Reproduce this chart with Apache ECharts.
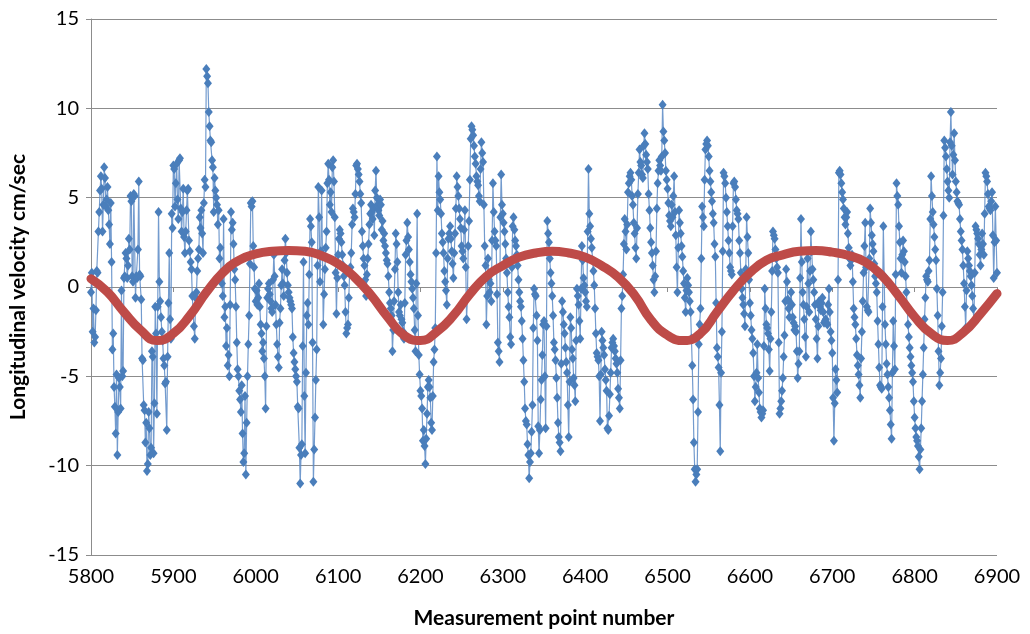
<!DOCTYPE html>
<html>
<head>
<meta charset="utf-8">
<script src="https://cdn.jsdelivr.net/npm/echarts@6/dist/echarts.min.js"></script>
<style>
  html, body { margin: 0; padding: 0; background: #ffffff; }
  #chart { width: 1030px; height: 634px; }
</style>
</head>
<body>
<div id="chart"></div>
<script>
// Measured longitudinal velocity, one reading per measurement point from 5800.
const velocityStart = 5800;
const velocityStep = 1;
const velocity = [
  -0.3, 0.8, -2.5, -1.2, -3.1, -2.8, -1.3, 0.9, 0.8, 3.1, 4.2, 5.4, 6.2, 5.5, 3.1, 4.6, 6.7, 6.1, 4.5, 4.9,             // 5800
  5.6, 4.3, 3.5, 2.4, 4.7, 1.4, -3.5, -2.6, -5.6, -6.7, -8.2, -4.9, -9.4, -7.0, -5.1, -5.6, -6.8, -0.2, -5.0, -4.7,     // 5820
  0.5, 0.6, 1.9, 1.6, 0.5, 1.2, 2.7, 2.1, 5.1, 4.8, 0.6, 0.3, 5.2, 5.1, -0.6, 0.6, 0.5, 2.1, 5.9, 0.7,                 // 5840
  0.6, -0.7, -4.0, -4.1, -6.6, -6.9, -8.7, -7.6, -10.3, -9.9, -7.0, -7.9, -9.4, -9.0, -3.6, -3.9, -9.3, -6.5, -1.1, -2.6, // 5860
  -7.1, -1.1, 4.2, 0.3, -0.8, -1.7, -2.5, -3.0, -4.0, -4.4, -5.4, -5.3, -8.0, -3.9, -0.9, 1.9, -1.8, -2.9, 4.1, 3.3,    // 5880
  6.8, 6.6, 4.5, 5.8, 6.9, 4.9, 3.8, 7.1, 7.2, 4.4, 3.1, 4.2, 5.5, 2.8, 1.9, 3.1, 4.3, 5.4, 5.5, 2.6,                  // 5900
  2.0, 1.4, 1.0, -0.5, -1.4, -2.2, -2.9, -0.6, -0.3, 0.9, 1.6, 2.1, 3.9, 3.3, 4.3, 3.0, 1.9, 4.7, 6.0, 5.6,            // 5920
  12.2, 11.8, 11.4, 9.8, 9.0, 8.2, 8.1, 7.1, 6.7, 4.2, 6.1, 5.4, 5.0, 4.6, 3.5, 4.3, 1.6, 2.2, 0.8, 0.2,               // 5940
  -0.5, 3.8, -1.7, -1.1, -3.3, -2.3, -4.4, -3.8, -5.0, -1.0, 4.2, 3.2, 3.6, 2.4, 1.0, 0.4, -1.1, -3.1, -4.6, -5.0,     // 5960
  -5.8, -6.3, -7.0, -5.5, -8.2, -9.8, -9.3, -6.1, -10.5, -7.6, -5.0, -3.2, -1.6, 1.3, 4.7, 4.5, 4.8, 2.3, 1.1, -0.1,   // 5980
  -0.8, -0.2, -1.0, -0.6, 0.2, -1.1, -2.1, -2.6, -3.6, -3.1, -4.0, -5.0, -6.8, -2.2, -0.6, -0.1, 0.2, -0.4, -0.8, -1.2, // 6000
  -1.4, 0.4, 1.8, 0.6, -1.0, -2.1, -3.2, -3.9, -4.5, -2.0, -1.2, 0.1, 1.0, 0.2, -0.5, 1.5, 2.7, 1.9, 0.8, 0.1,         // 6020
  -0.3, -0.6, -0.8, -1.0, -1.2, -2.8, -3.7, -4.2, -4.6, -5.0, -5.3, -6.7, -6.8, -9.0, -11.0, -9.4, -8.8, -3.3, 1.4, -6.1, // 6040
  -9.3, -4.8, -1.6, -0.9, -2.1, 0.7, 3.8, 3.4, 2.5, -3.1, -10.9, -9.1, -7.3, -5.2, -3.5, 1.2, 5.6, 3.9, 0.3, 2.0,      // 6060
  5.4, 1.8, -2.1, -0.4, 1.0, 2.2, 3.1, 5.8, 6.9, 6.0, 4.6, 5.3, 4.2, 6.7, 7.1, 5.9, 3.9, 0.8, -1.5, 0.5,               // 6080
  1.8, 2.7, 3.2, 3.0, 2.5, 1.8, 1.2, 0.6, 0.1, -1.4, -2.6, -2.3, -2.1, -0.6, 0.8, 1.1, 1.9, 3.5, 4.4, 4.2,             // 6100
  3.9, 5.2, 6.8, 6.9, 6.6, 6.3, 5.9, 5.2, 4.7, 3.1, 2.3, 1.6, 1.2, 0.4, -0.5, 0.7, 1.6, 2.4, 3.5, 4.1,                 // 6120
  4.6, 4.2, 3.8, 4.4, 2.9, 5.4, 6.5, 5.0, 4.6, 4.3, 4.0, 4.9, 4.6, 3.2, 3.7, 2.6, 3.0, 2.3, 1.9, 1.5,                  // 6140
  1.3, 0.6, -0.3, -0.9, -1.2, -1.6, -3.6, -2.4, -0.8, 1.0, 3.0, 2.4, 1.4, -0.3, -1.4, -1.6, -1.0, -1.8, -2.0, -2.5,    // 6160
  -2.9, -0.9, 1.8, 2.6, 3.6, 2.8, 2.1, 1.4, 0.7, 0.3, -0.1, -0.6, -1.2, -2.4, -3.6, 0.2, 4.1, -1.6, -3.8, -4.9,        // 6180
  -5.8, -6.1, -6.8, -8.6, -8.0, -8.9, -9.9, -8.5, -7.1, -5.6, -5.2, -5.6, -6.2, -7.6, -8.0, -6.1, -4.2, -3.5, -2.3, 1.9, // 6200
  7.3, 4.3, 6.2, 5.3, 4.9, 4.1, 3.0, 2.5, 1.9, 0.9, 0.3, -0.2, -1.0, 1.6, 2.7, 3.0, 3.4, 2.7, 2.0, 1.3,                // 6220
  0.5, 1.9, 3.0, 4.4, 6.2, 5.6, 5.1, 4.4, 3.8, 3.3, 2.3, 2.0, 1.6, 3.2, 4.3, 1.1, -1.8, -0.6, 2.3, 3.7,                // 6240
  6.0, 8.3, 9.0, 8.8, 8.5, 7.9, 7.3, 6.9, 6.2, 5.9, 5.7, 5.1, 4.8, 6.6, 8.1, 7.5, 7.0, 4.6, 2.3, 1.2,                  // 6260
  -2.1, -0.5, 1.6, 0.4, -0.3, 0.2, -0.8, 2.6, 5.8, 4.2, 3.1, 2.6, 2.3, -0.4, -3.1, -3.6, -4.2, 3.9, 6.3, 4.6,          // 6280
  4.1, 3.6, 3.1, 2.4, 1.6, 0.8, -0.3, -1.1, -1.7, -2.8, -3.2, 1.1, 3.4, 3.9, 3.2, 2.6, 2.3, 1.8, 1.2, 0.4,             // 6300
  -0.3, -0.8, -1.1, -1.9, -2.9, -4.1, -5.3, -6.8, -7.5, -7.7, -8.8, -9.4, -10.7, -9.8, -9.3, -8.1, -6.6, -2.3, -0.1, -0.4, // 6320
  -0.5, -1.6, -3.0, -7.8, -9.3, -8.0, -6.3, -5.2, -3.8, -2.1, -1.9, -5.0, -7.9, -2.2, 3.7, 3.0, 2.5, 1.6, 0.8, 0.2,    // 6340
  -0.5, -1.6, -3.1, -3.5, -4.1, -5.1, -6.2, -7.6, -8.4, -8.7, -9.2, -4.3, -0.8, -1.4, -2.1, -2.6, -3.4, -4.2, -4.8, -6.6, // 6360
  -8.4, -5.3, -1.7, -2.3, -3.5, -4.0, -5.1, -5.5, -6.4, -3.0, -0.1, -0.5, -1.0, -1.9, -2.9, -0.1, 2.3, 1.5, 0.5, 0.1,  // 6380
  -0.3, -0.8, -1.1, 3.1, 6.6, 4.1, 3.4, 2.7, 2.2, 1.5, 0.9, 0.1, -1.2, -2.6, -3.7, -3.9, -4.1, -5.0, -7.5, -4.9,       // 6400
  -2.5, -3.0, -3.4, -3.8, -4.6, -5.2, -5.8, -7.9, -8.0, -7.2, -6.0, -4.8, -3.4, -3.1, -2.9, -3.3, -3.6, -4.0, -4.3, -4.8, // 6420
  -5.7, -6.2, -6.8, -4.1, -1.2, -0.5, 0.7, 2.4, 3.8, 3.1, 2.1, 3.5, 5.3, 5.8, 6.2, 6.4, 6.0, 5.1, 4.6, 3.6,            // 6440
  3.0, 2.2, 1.6, 3.3, 5.2, 6.4, 7.7, 7.0, 6.8, 6.3, 6.1, 7.9, 8.6, 8.0, 7.4, 7.0, 6.6, 5.2, 4.3, 3.3,                  // 6460
  2.5, 1.9, 1.2, 0.4, -0.3, 0.6, 2.0, 4.4, 5.8, 6.5, 7.1, 6.8, 6.5, 7.3, 10.2, 8.7, 8.2, 7.5, 6.5, 6.0,                // 6480
  5.5, 4.7, 4.0, 3.7, 3.4, 4.6, 3.9, 5.1, 6.2, 4.2, 2.9, 1.1, -0.3, 2.2, 4.3, 3.6, 3.0, 2.3, 1.7, 0.9,                 // 6500
  0.2, -0.6, -1.4, -0.2, 0.5, 0.1, -0.3, -0.8, -1.4, -2.9, -4.4, -6.3, -8.7, -10.2, -10.9, -10.5, -10.2, -7.0, -3.2, -2.1, // 6520
  -1.2, 1.6, 4.5, 3.9, 3.4, 6.0, 7.7, 8.0, 8.2, 7.9, 7.3, 6.5, 5.9, 5.3, 4.8, 4.1, 3.6, 2.4, 1.7, -0.9,                // 6540
  -3.4, -3.9, -4.5, -6.6, -9.2, -4.8, -2.5, 2.0, 6.4, 6.2, 5.8, 5.0, 4.2, 3.4, 2.6, 1.9, 1.1, 0.9, 0.7, 3.4,           // 6560
  5.8, 5.9, 5.6, 4.9, 4.3, 4.1, 3.8, 2.6, 1.9, 0.8, -0.1, -0.6, -1.0, -1.5, -2.2, 1.0, 3.9, 2.8, 1.9, 0.4,             // 6580
  -0.9, -1.6, -2.4, -2.9, -3.7, -5.0, -6.4, -5.6, -4.8, -3.2, -5.1, -5.9, -6.8, -7.0, -7.3, -7.1, -6.9, -3.3, -0.1, -1.2, // 6600
  -2.1, -2.3, -2.6, -3.5, -4.7, -2.9, -1.4, 0.9, 3.1, 2.9, 2.7, 2.1, 1.6, 1.1, 0.8, -3.1, -7.1, -6.8, -6.4, -5.8,      // 6620
  -5.1, -3.9, -2.7, -0.8, 1.0, 0.3, -0.7, -1.2, -1.7, -0.9, -0.3, -1.0, -1.7, -2.0, -2.4, -2.2, -2.5, -3.6, -5.1, -4.3, // 6640
  -3.6, 0.5, 3.8, 1.4, -0.3, -1.0, -1.8, -2.8, -3.9, -1.1, 1.6, 0.2, -1.4, 0.9, 3.1, 2.0, 1.0, 0.4, -0.3, -1.0,        // 6660
  -1.8, -2.9, -4.0, -2.2, -0.8, -1.1, -1.3, -0.9, -0.6, -1.4, -2.0, -1.9, -1.8, -2.0, -2.1, -1.0, -0.1, -1.4, -2.5, -3.0, // 6680
  -3.7, -6.2, -8.6, -6.5, -4.6, -5.2, -5.9, 0.4, 6.4, 6.5, 6.3, 5.8, 5.3, 4.9, 4.4, 3.9, 3.5, 3.9, 4.2, 3.0,           // 6700
  2.2, 1.6, 1.2, 1.5, 1.8, 0.3, -1.2, -1.7, -2.1, -2.9, -3.8, -4.4, -4.9, -5.5, -6.2, -4.0, -2.5, -0.8, 0.8, 2.3,      // 6720
  3.6, 1.1, -1.1, -1.3, -1.4, 1.6, 4.4, 3.6, 2.9, 2.4, 2.0, 1.3, 0.6, 0.2, -0.3, -1.9, -3.2, -4.5, -5.5, -5.6,         // 6740
  -5.7, -1.1, 3.4, 0.6, -2.1, -3.2, -4.3, -4.9, -5.6, -6.2, -6.9, -7.7, -8.5, -4.8, -1.9, -3.3, -4.6, 0.7, 5.8, 5.1,   // 6760
  4.6, 3.4, 2.5, 1.6, 0.8, 1.8, 2.6, 2.0, 1.4, 0.6, -0.3, -1.2, -2.1, -2.8, -3.4, -3.9, -4.4, -4.8, -5.3, -6.4,        // 6780
  -7.3, -7.9, -8.4, -8.6, -8.9, -9.5, -10.2, -9.1, -7.9, -6.4, -4.9, -3.4, -1.8, -0.6, 0.6, 0.4, 0.3, 0.9, 1.5, 3.8,   // 6800
  6.2, 5.1, 4.2, 3.5, 2.8, 2.1, 1.5, -0.1, -1.6, -3.6, -5.5, -4.8, -4.0, -2.2, -0.3, 4.0, 8.2, 7.8, 7.3, 6.6,          // 6820
  5.9, 5.4, 5.0, 8.1, 9.8, 7.9, 6.3, 7.4, 8.6, 7.1, 5.9, 5.3, 4.8, 4.7, 4.6, 3.8, 3.1, 2.6, 2.1, 1.2,                  // 6840
  0.2, -1.1, -2.3, -0.2, 2.0, 1.6, 1.2, 0.9, 0.6, 0.1, -0.5, -1.2, -1.9, 0.8, 3.4, 3.2, 3.0, 2.7, 2.4, 1.8,            // 6860
  1.2, 2.1, 3.0, 2.4, 1.8, 4.1, 6.4, 6.2, 5.9, 5.2, 4.5, 4.4, 4.3, 4.8, 5.3, 2.9, 0.5, 2.5, 4.5, 2.6,                  // 6880
  0.8                                                                                                                   // 6900
];

// Fitted periodic trend, one value every 20 measurement points from 5800.
const trendStart = 5800;
const trendStep = 20;
const trend = [
  0.46, -0.28, -1.4, -2.4, -3.0, -2.6, -1.6, -0.3, 0.8, 1.5,    // 5800
  1.85, 2.0, 2.04, 2.0, 1.75, 1.3, 0.55, -0.46, -1.67, -2.7,    // 6000
  -3.0, -2.5, -1.6, -0.4, 0.6, 1.2, 1.67, 1.9, 2.0, 1.9,        // 6200
  1.67, 1.2, 0.55, -0.46, -1.85, -2.7, -3.0, -2.6, -1.4, -0.2,  // 6400
  0.8, 1.5, 1.8, 2.0, 2.04, 1.95, 1.76, 1.4, 0.65, -0.46,       // 6600
  -1.67, -2.6, -3.0, -2.5, -1.5, -0.37                          // 6800
];

// Axis ranges and tick spacing
const xRange = [5800, 6900];
const xTick = 100;
const yRange = [-15, 15];
const yTick = 5;

const xTitle = 'Measurement point number';
const yTitle = 'Longitudinal velocity cm/sec';

const velocityPoints = velocity.map((v, i) => [velocityStart + i * velocityStep, v]);
const trendPoints = trend.map((v, i) => [trendStart + i * trendStep, v]);

const gridGray = '#8c8c8c';
const labelFont = 'Lato, "Open Sans", sans-serif';

const chart = echarts.init(document.getElementById('chart'), null, { renderer: 'canvas' });

chart.setOption({
  animation: false,
  backgroundColor: '#ffffff',
  grid: { left: 89, right: 33, top: 19, bottom: 76, containLabel: false },
  xAxis: [
    {
      type: 'value',
      min: xRange[0], max: xRange[1], interval: xTick,
      position: 'bottom',
      axisLine: { show: false, onZero: false },
      axisTick: { show: false },
      splitLine: { show: false },
      axisLabel: { color: '#000', fontFamily: labelFont, fontSize: 20, margin: 12, formatter: (v) => String(v) },
      name: xTitle,
      nameLocation: 'middle',
      nameGap: 53,
      nameTextStyle: { color: '#000', fontFamily: labelFont, fontSize: 21, fontWeight: 'bold' }
    },
    {
      type: 'value',
      min: xRange[0], max: xRange[1], interval: xTick,
      position: 'bottom',
      axisLine: { show: true, onZero: true, lineStyle: { color: gridGray, width: 1 } },
      axisTick: { show: true, length: 5, lineStyle: { color: gridGray } },
      axisLabel: { show: false },
      splitLine: { show: false }
    }
  ],
  yAxis: {
    type: 'value',
    min: yRange[0], max: yRange[1], interval: yTick,
    axisLine: { show: true, onZero: false, lineStyle: { color: gridGray, width: 1 } },
    axisTick: { show: true, length: 5, lineStyle: { color: gridGray } },
    splitLine: { show: true, lineStyle: { color: gridGray, width: 1 } },
    axisLabel: { color: '#000', fontFamily: labelFont, fontSize: 20, margin: 12 },
    name: yTitle,
    nameLocation: 'middle',
    nameGap: 62,
    nameTextStyle: { color: '#000', fontFamily: labelFont, fontSize: 21, fontWeight: 'bold' }
  },
  series: [
    {
      type: 'line',
      xAxisIndex: 0,
      data: velocityPoints,
      symbol: 'diamond',
      symbolSize: [8, 10],
      showSymbol: true,
      itemStyle: { color: '#4a7ebb' },
      lineStyle: { color: '#5a8ac6', width: 1.2, opacity: 0.85 },
      z: 2
    },
    {
      type: 'line',
      xAxisIndex: 0,
      data: trendPoints,
      smooth: true,
      symbol: 'none',
      lineStyle: { color: '#be4b48', width: 9, cap: 'round' },
      z: 3
    }
  ]
});
</script>
</body>
</html>
